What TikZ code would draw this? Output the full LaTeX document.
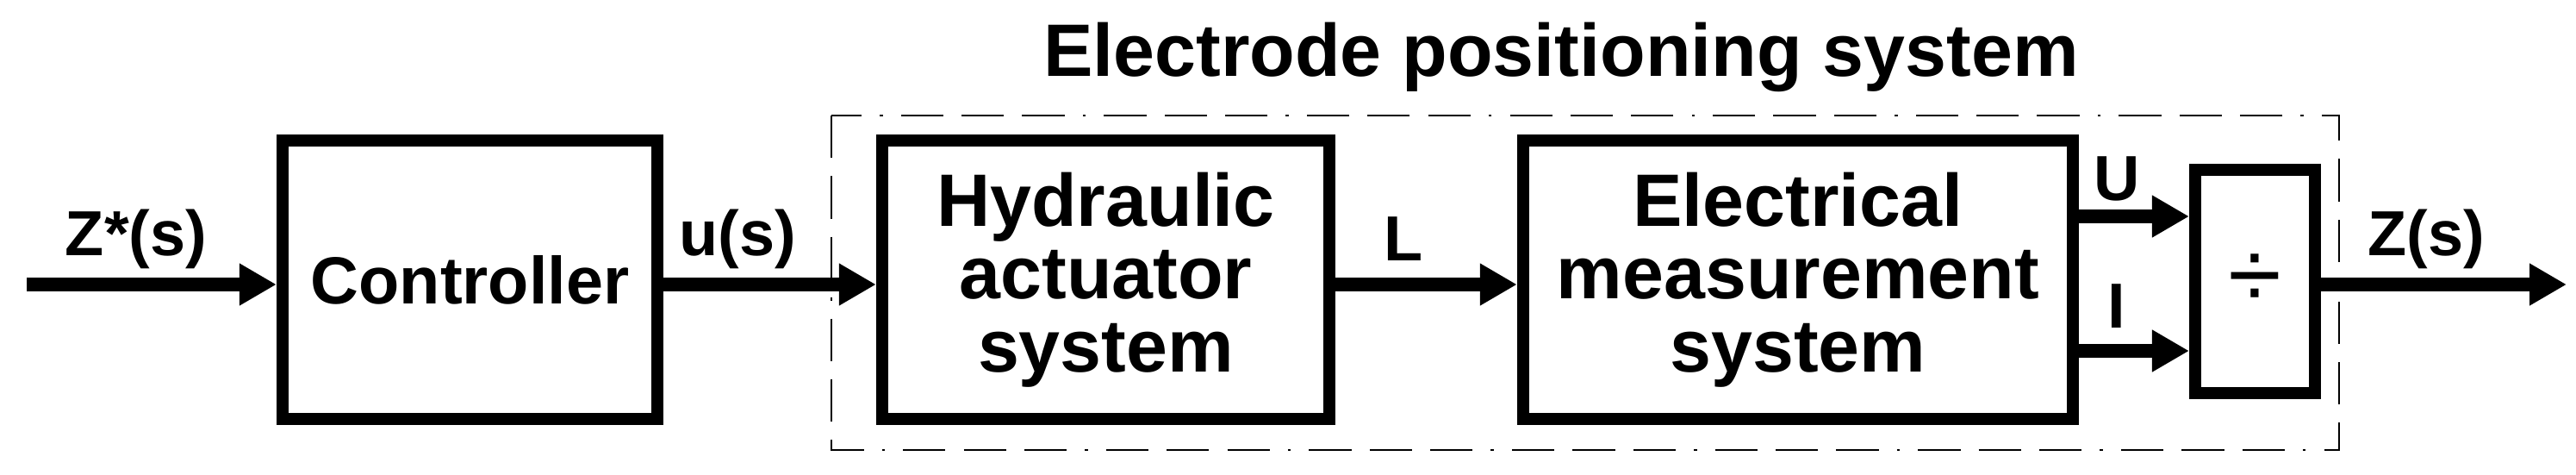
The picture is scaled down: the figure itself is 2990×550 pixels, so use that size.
\documentclass[tikz,border=0pt]{standalone}
\usepackage{fontspec}
\setmainfont{Liberation Sans}
\usetikzlibrary{arrows.meta}
\begin{document}
\begin{tikzpicture}[x=0.01cm,y=-0.01cm,
  blk/.style={draw,line width=4pt,inner sep=0pt,align=center,font=\fontsize{24.5}{24}\selectfont\bfseries},
  lbl/.style={font=\fontsize{21}{23}\selectfont\bfseries},
  sig/.style={line width=4.5pt,-{Triangle[length=0.43cm,width=0.46cm]}}]
\useasboundingbox (0,0) rectangle (2990,550);
\draw[line width=0.6pt,dash pattern=on 14pt off 6pt on 14pt off 6pt on 14pt off 6pt on 1pt off 6pt] (965,134) rectangle (2715,522);
\node[lbl,font=\fontsize{24.5}{27}\selectfont\bfseries] (title) at (1812,66) {Electrode positioning system};
\coordinate (in) at (31,330);
\node[blk,font=\fontsize{22}{24}\selectfont\bfseries,minimum width=4.35cm,minimum height=3.23cm] (ctrl) at (545.5,324.5) {Controller};
\node[blk,minimum width=5.19cm,minimum height=3.23cm] (hyd) at (1283.5,324.5) {Hydraulic\\actuator\\system};
\node[blk,minimum width=6.38cm,minimum height=3.23cm] (ele) at (2087,324.5) {Electrical\\measurement\\system};
\node[blk,font=\fontsize{32}{32}\selectfont,minimum width=1.39cm,minimum height=2.59cm] (div) at (2617.5,326.5) {÷};
\coordinate (out) at (2979,330);
\draw[sig] (in) -- (ctrl.west|-in);
\draw[sig] (ctrl.east|-in) -- (hyd.west|-in);
\draw[sig] (hyd.east|-in) -- (ele.west|-in);
\draw[sig] (ele.east|-0,251) -- (div.west|-0,251);
\draw[sig] (ele.east|-0,407) -- (div.west|-0,407);
\draw[sig] (div.east|-out) -- (out);
\node[lbl] (lz) at (158,277) {Z*(s)};
\node[lbl] (lu) at (856,277) {u(s)};
\node[lbl] (lL) at (1629,277) {L};
\node[lbl] (lU) at (2457,207) {U};
\node[lbl] (lI) at (2457,355) {I};
\node[lbl] (lZ) at (2816,277) {Z(s)};
\end{tikzpicture}
\end{document}
